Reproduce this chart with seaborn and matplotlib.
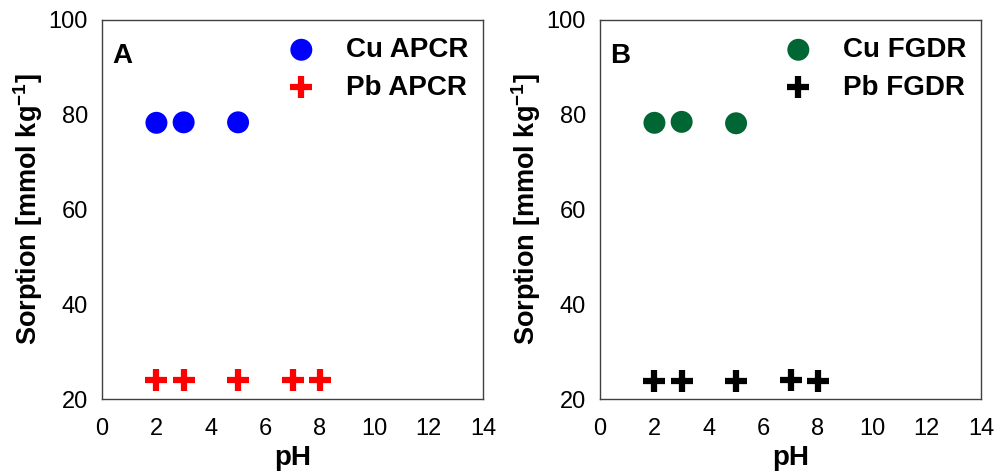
import matplotlib
matplotlib.use("Agg")
import matplotlib.pyplot as plt
import seaborn as sns
import pandas as pd

sns.set_theme(style="white")
plt.rcParams['font.family'] = ['Liberation Sans', 'DejaVu Sans']
plt.rcParams['mathtext.fontset'] = 'custom'
plt.rcParams['mathtext.rm'] = 'Liberation Sans'
plt.rcParams['mathtext.bf'] = 'Liberation Sans:bold'
plt.rcParams['text.color'] = 'black'
plt.rcParams['axes.labelcolor'] = 'black'

# Data
cu_ph = [2, 3, 5]
cu_apcr = [78.3, 78.4, 78.4]
cu_fgdr = [78.3, 78.5, 78.2]
pb_ph = [2, 3, 5, 7, 8]
pb_apcr = [24.1, 24.1, 24.1, 24.1, 24.1]
pb_fgdr = [23.9, 23.9, 23.9, 24.0, 23.8]

panels = [
    ("A", "Cu APCR", "Pb APCR", cu_apcr, pb_apcr, "#0000ff", "#ff0000"),
    ("B", "Cu FGDR", "Pb FGDR", cu_fgdr, pb_fgdr, "#006633", "#000000"),
]

fig = plt.figure(figsize=(10.07, 4.71), dpi=100)
axes = [fig.add_axes([102/1007, 1-399/471, 381/1007, 379/471]),
        fig.add_axes([600/1007, 1-399/471, 381/1007, 379/471])]

for ax, (lab, cu_name, pb_name, cu_vals, pb_vals, cu_col, pb_col) in zip(axes, panels):
    df_cu = pd.DataFrame({"pH": cu_ph, "v": cu_vals})
    df_pb = pd.DataFrame({"pH": pb_ph, "v": pb_vals})
    sns.scatterplot(data=df_cu, x="pH", y="v", ax=ax, marker="o", s=250,
                    color=cu_col, edgecolor="none", label=cu_name, zorder=3)
    sns.scatterplot(data=df_pb, x="pH", y="v", ax=ax, marker="+", s=260,
                    color=pb_col, linewidth=4.5, label=pb_name, zorder=3)
    ax.set_xlim(0, 14)
    ax.set_ylim(20, 100)
    ax.set_xticks(range(0, 15, 2))
    ax.set_yticks(range(20, 101, 20))
    ax.tick_params(axis="both", length=0, labelsize=17, colors="#000000")
    ax.tick_params(axis="y", pad=10)
    ax.tick_params(axis="x", pad=14)
    ax.set_xlabel("pH", fontsize=20, fontweight="bold", labelpad=3)
    ax.set_ylabel(r"Sorption [mmol kg$^{\mathbf{-1}}$]", fontsize=19.5,
                  fontweight="bold", labelpad=3)
    for sp in ax.spines.values():
        sp.set_color("#404040")
        sp.set_linewidth(1.0)
    ax.text(0.026, 0.905, lab, transform=ax.transAxes, fontsize=20,
            fontweight="bold", va="center", ha="left")
    leg = ax.legend(loc="upper right", bbox_to_anchor=(0.961, 0.955),
                    frameon=False, borderaxespad=0, borderpad=0,
                    handlelength=1.0, handletextpad=1.1, labelspacing=0.42,
                    prop={"weight": "bold", "size": 20})

fig.savefig("out.png", dpi=100)
